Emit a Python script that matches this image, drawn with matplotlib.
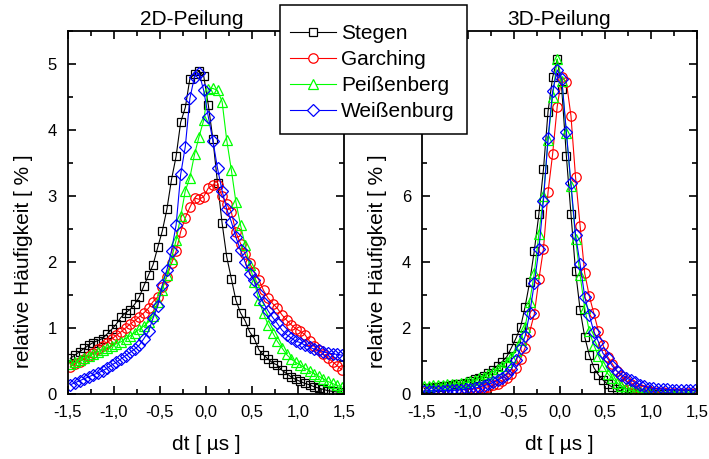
import numpy as np
import matplotlib
matplotlib.use("Agg")
import matplotlib.pyplot as plt
from matplotlib.ticker import MultipleLocator, FuncFormatter
from matplotlib.lines import Line2D
from matplotlib.patches import Rectangle

plt.rcParams['font.family'] = ['Liberation Sans', 'DejaVu Sans']

# bin centres (µs)
dt = np.round(np.arange(-1.475, 1.5, 0.05), 3)

series_names = ["Stegen", "Garching", "Peißenberg", "Weißenburg"]

# ---- 2D-Peilung (relative frequency, %) ----
stegen_2d = [0.54, 0.59, 0.64, 0.69, 0.74, 0.78, 0.81, 0.84, 0.91, 0.98,
             1.06, 1.16, 1.23, 1.28, 1.36, 1.47, 1.64, 1.80, 1.96, 2.22,
             2.47, 2.80, 3.25, 3.60, 4.12, 4.34, 4.78, 4.85, 4.89, 4.82,
             4.38, 3.86, 3.20, 2.59, 2.08, 1.75, 1.42, 1.23, 1.11, 0.94,
             0.84, 0.67, 0.59, 0.53, 0.47, 0.44, 0.36, 0.31, 0.26, 0.22,
             0.19, 0.16, 0.14, 0.11, 0.09, 0.07, 0.05, 0.04, 0.03, 0.03]
garching_2d = [0.41, 0.46, 0.49, 0.53, 0.57, 0.62, 0.68, 0.73, 0.78, 0.83,
               0.89, 0.94, 1.00, 1.06, 1.11, 1.17, 1.23, 1.30, 1.40, 1.47,
               1.62, 1.78, 1.98, 2.16, 2.46, 2.67, 2.83, 2.97, 2.95, 2.99,
               3.12, 3.17, 3.16, 3.00, 2.88, 2.76, 2.45, 2.28, 2.12, 1.98,
               1.85, 1.73, 1.57, 1.45, 1.37, 1.30, 1.20, 1.12, 1.05, 0.99,
               0.95, 0.90, 0.80, 0.72, 0.66, 0.60, 0.55, 0.49, 0.43, 0.37]
peissenberg_2d = [0.45, 0.48, 0.52, 0.55, 0.58, 0.61, 0.64, 0.67, 0.70, 0.73,
                  0.76, 0.79, 0.84, 0.88, 0.93, 0.98, 1.03, 1.09, 1.18, 1.40,
                  1.58, 1.80, 2.05, 2.33, 2.69, 3.08, 3.28, 3.63, 3.90, 4.15,
                  4.62, 4.63, 4.60, 4.43, 3.85, 3.40, 2.91, 2.56, 2.26, 1.95,
                  1.70, 1.42, 1.22, 1.05, 0.93, 0.80, 0.70, 0.60, 0.53, 0.48,
                  0.44, 0.39, 0.35, 0.31, 0.27, 0.23, 0.19, 0.16, 0.13, 0.11]
weissenburg_2d = [0.14, 0.17, 0.20, 0.23, 0.26, 0.29, 0.32, 0.35, 0.39, 0.44,
                  0.48, 0.53, 0.58, 0.63, 0.68, 0.74, 0.84, 0.95, 1.15, 1.33,
                  1.65, 1.88, 2.17, 2.56, 3.33, 3.75, 4.48, 4.81, 4.86, 4.60,
                  4.20, 3.84, 3.42, 3.08, 2.80, 2.61, 2.38, 2.18, 2.00, 1.82,
                  1.72, 1.52, 1.38, 1.26, 1.16, 1.07, 0.97, 0.90, 0.85, 0.80,
                  0.78, 0.74, 0.71, 0.68, 0.66, 0.64, 0.62, 0.61, 0.60, 0.59]

# ---- 3D-Peilung (relative frequency, %) ----
stegen_3d = [0.17, 0.19, 0.20, 0.22, 0.23, 0.25, 0.27, 0.29, 0.31, 0.34,
             0.39, 0.44, 0.50, 0.56, 0.64, 0.74, 0.86, 0.98, 1.13, 1.40,
             1.69, 2.02, 2.65, 3.40, 4.34, 5.45, 6.81, 8.56, 9.60, 10.14,
             9.23, 7.21, 5.45, 3.72, 2.55, 1.73, 1.18, 0.80, 0.58, 0.42,
             0.30, 0.21, 0.14, 0.09, 0.06, 0.04, 0.03, 0.02, 0.01, 0.01,
             0.01, 0.00, 0.00, 0.00, 0.00, 0.00, 0.00, 0.00, 0.00, 0.00]
garching_3d = [0.10, 0.10, 0.11, 0.11, 0.11, 0.12, 0.12, 0.12, 0.13, 0.13,
               0.14, 0.15, 0.17, 0.19, 0.22, 0.26, 0.31, 0.38, 0.47, 0.60,
               0.78, 1.06, 1.40, 1.89, 2.42, 3.47, 4.40, 6.12, 7.27, 8.71,
               9.60, 9.45, 8.43, 6.57, 5.09, 3.66, 2.97, 2.44, 1.90, 1.48,
               1.13, 0.92, 0.70, 0.54, 0.40, 0.30, 0.22, 0.16, 0.12, 0.09,
               0.07, 0.06, 0.05, 0.04, 0.04, 0.03, 0.03, 0.02, 0.02, 0.02]
peissenberg_3d = [0.24, 0.25, 0.26, 0.27, 0.28, 0.29, 0.30, 0.31, 0.33, 0.35,
                  0.38, 0.42, 0.47, 0.53, 0.60, 0.67, 0.75, 0.86, 0.98, 1.12,
                  1.30, 1.64, 2.04, 2.80, 3.66, 4.85, 6.00, 7.70, 9.00, 10.15,
                  9.50, 7.90, 6.30, 4.70, 3.60, 2.60, 1.90, 1.48, 1.15, 0.85,
                  0.62, 0.47, 0.34, 0.24, 0.17, 0.12, 0.09, 0.06, 0.04, 0.03,
                  0.02, 0.02, 0.01, 0.01, 0.01, 0.01, 0.01, 0.01, 0.01, 0.01]
weissenburg_3d = [0.09, 0.09, 0.10, 0.10, 0.10, 0.11, 0.11, 0.12, 0.13, 0.14,
                  0.16, 0.18, 0.21, 0.25, 0.29, 0.35, 0.42, 0.50, 0.60, 0.75,
                  1.03, 1.38, 1.75, 2.45, 3.35, 4.38, 5.86, 7.75, 9.17, 9.82,
                  9.55, 7.93, 6.38, 4.82, 3.93, 2.95, 2.39, 1.89, 1.58, 1.23,
                  1.08, 0.85, 0.70, 0.59, 0.50, 0.42, 0.35, 0.28, 0.23, 0.19,
                  0.17, 0.16, 0.15, 0.14, 0.13, 0.13, 0.12, 0.12, 0.12, 0.11]

data_2d = [stegen_2d, garching_2d, peissenberg_2d, weissenburg_2d]
data_3d = [stegen_3d, garching_3d, peissenberg_3d, weissenburg_3d]

colors = ["#000000", "#ff0000", "#00ff00", "#0000ff"]
markers = ["s", "o", "^", "D"]
msizes = [6.3, 6.8, 7.2, 6.0]

W, H = 709, 459
fig = plt.figure(figsize=(W / 100, H / 100), dpi=100)

def fr(x0, x1, ytop, ybot):
    return [x0 / W, 1 - ybot / H, (x1 - x0) / W, (ybot - ytop) / H]

ax1 = fig.add_axes(fr(68, 344, 31, 394))
ax2 = fig.add_axes(fr(422, 697, 31, 394))

comma = FuncFormatter(lambda v, p: ("%.1f" % v).replace(".", ",").replace("−", "-"))
int_all = FuncFormatter(lambda v, p: "%d" % round(v))
# labels 8 and 10 of the right panel are hidden behind the legend box
int_low = FuncFormatter(lambda v, p: "%d" % round(v) if v < 7 else "")

for ax, dat, title, tx, ymax, ymaj, ymin, yf in [
        (ax1, data_2d, "2D-Peilung", 0.449, 5.5, 1, 0.5, int_all),
        (ax2, data_3d, "3D-Peilung", 0.497, 11, 2, 1, int_low)]:
    for vals, c, m, ms in zip(dat, colors, markers, msizes):
        ax.plot(dt, vals, color=c, lw=0.8, marker=m, ms=ms,
                mfc='none', mec=c, mew=0.9)
    ax.set_xlim(-1.5, 1.5)
    ax.set_ylim(0, ymax)
    ax.xaxis.set_major_locator(MultipleLocator(0.5))
    ax.xaxis.set_minor_locator(MultipleLocator(0.25))
    ax.yaxis.set_major_locator(MultipleLocator(ymaj))
    ax.yaxis.set_minor_locator(MultipleLocator(ymin))
    ax.xaxis.set_major_formatter(comma)
    ax.yaxis.set_major_formatter(yf)
    ax.tick_params(which='both', direction='in', top=True, right=True,
                   width=1.2, labelsize=12, pad=8)
    ax.tick_params(which='major', length=6)
    ax.tick_params(which='minor', length=3.5)
    for s in ax.spines.values():
        s.set_linewidth(1.3)
    ax.set_title(title, fontsize=15, pad=4, x=tx)
    ax.set_xlabel("dt [ µs ]", fontsize=15, labelpad=11)
    ax.set_ylabel("relative Häufigkeit [ % ]", fontsize=15)
    ax.yaxis.set_label_coords(-0.128, 0.366)

# legend box spanning both panels
box = Rectangle((280 / W, 1 - 134 / H), 187 / W, 129 / H,
                transform=fig.transFigure, facecolor='white',
                edgecolor='black', lw=1.1, zorder=9)
fig.add_artist(box)

handles = [Line2D([], [], color=c, lw=0.8, marker=m, ms=ms, mfc='white',
                  mec=c, mew=0.9)
           for c, m, ms in zip(colors, markers, msizes)]
leg = fig.legend(handles, series_names, loc='upper left',
                 bbox_to_anchor=(290 / W, 1 - 24 / H), borderaxespad=0,
                 borderpad=0, fontsize=15, frameon=False,
                 handlelength=2.2, handletextpad=0.25, labelspacing=0.34)
leg.set_zorder(10)

fig.savefig("out.png", dpi=100)
